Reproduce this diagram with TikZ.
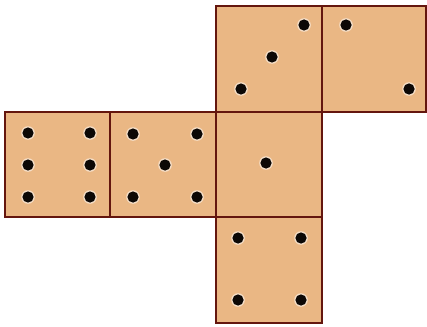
\documentclass[tikz,border=0pt]{standalone}
\definecolor{facefill}{RGB}{234,183,132}
\definecolor{edge}{RGB}{100,22,14}
\definecolor{pip}{RGB}{12,8,6}
\begin{document}
\begin{tikzpicture}[x=1pt,y=-1pt,
  face/.style={fill=facefill,draw=edge,line width=2.4pt},
  halo/.style={fill=white!55!facefill},
  pipdot/.style={fill=pip}]
\useasboundingbox (0,0) rectangle (427,326);
% faces
\draw[face] (216,6) rectangle (322,112);
\draw[face] (322,6) rectangle (426,112);
\draw[face] (5,112) rectangle (110,217);
\draw[face] (110,112) rectangle (216,217);
\draw[face] (216,112) rectangle (322,217);
\draw[face] (216,217) rectangle (322,323);
% pips
\foreach \p in {(304,25),(272,57),(241,89),(346,25),(409,89),
                (28,133),(28,165),(28,197),(90,133),(90,165),(90,197),
                (133,134),(197,134),(165,165),(133,197),(197,197),
                (266,163),
                (238,238),(301,238),(238,300),(301,300)}
  {\fill[halo] \p circle (6.8);
   \fill[pipdot] \p circle (5.6);}
\end{tikzpicture}
\end{document}
